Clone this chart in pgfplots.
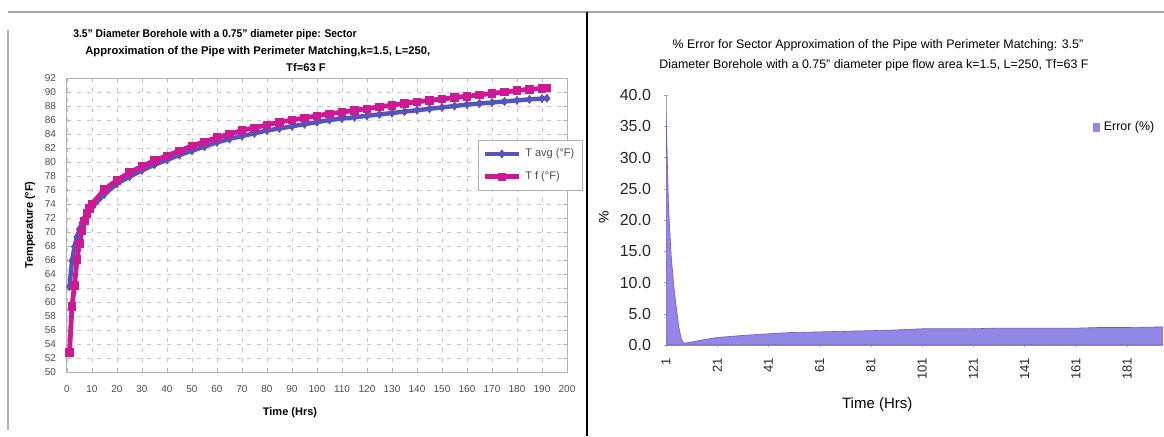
\documentclass[border=0pt]{standalone}
\usepackage{pgfplots}
\pgfplotsset{compat=1.18}
\usepackage{fontspec}
\setmainfont{Liberation Sans}
\definecolor{tblue}{RGB}{85,85,185}
\definecolor{tmag}{RGB}{205,25,150}
\definecolor{efill}{RGB}{145,135,228}
\definecolor{edraw}{RGB}{100,90,205}
\begin{document}
\begin{tikzpicture}
\path[use as bounding box] (0,0) rectangle (582pt,218pt);
% frame
\draw[gray!70, line width=1pt] (4pt,212pt) -- (582pt,212pt);
\draw[black, line width=0.8pt] (293.5pt,212pt) -- (293.5pt,0pt);
\draw[gray!60, line width=1.2pt] (4pt,203pt) -- (4pt,3pt);
% left titles
\node[anchor=west, font=\fontsize{5.6}{6}\selectfont\bfseries, inner sep=0pt] at (36.5pt,200.5pt) {\scalebox{0.92}[1]{3.5" Diameter Borehole with a 0.75" diameter pipe: Sector}};
\node[anchor=west, font=\fontsize{5.6}{6}\selectfont\bfseries, inner sep=0pt] at (42.5pt,192pt) {Approximation of the Pipe with Perimeter Matching,k=1.5, L=250,};
\node[anchor=center, font=\fontsize{5.6}{6}\selectfont\bfseries, inner sep=0pt] at (153pt,184pt) {Tf=63 F};
% right titles
\node[anchor=center, font=\fontsize{6.2}{7}\selectfont, inner sep=0pt] at (439pt,195.5pt) {\% Error for Sector Approximation of the Pipe with Perimeter Matching: 3.5"};
\node[anchor=center, font=\fontsize{6.2}{7}\selectfont, inner sep=0pt] at (437pt,185.5pt) {Diameter Borehole with a 0.75" diameter pipe flow area k=1.5, L=250, Tf=63 F};

\begin{axis}[
  at={(33.5pt,32pt)}, anchor=south west,
  scale only axis, width=250pt, height=147pt,
  xmin=0, xmax=200, ymin=50, ymax=92,
  xtick={0,10,...,200}, ytick={50,52,...,92},
  grid=major,
  major grid style={gray!45, dash pattern=on 2pt off 3pt, line width=0.4pt},
  axis line style={gray!60, line width=0.5pt},
  tick style={gray!60},
  major tick length=2pt,
  tick label style={font=\fontsize{5}{6}\selectfont, text=black!70},
  /pgf/number format/assume math mode=true,
  xticklabel style={yshift=-3pt},
  yticklabel style={xshift=-2pt},
  xlabel={Time (Hrs)},
  ylabel={Temperature (°F)},
  xlabel style={at={(axis description cs:0.446,-0.139)}, anchor=center, font=\fontsize{5.5}{6}\selectfont\bfseries},
  ylabel style={at={(axis description cs:-0.074,0.5)}, anchor=center, rotate=0, font=\fontsize{5.5}{6}\selectfont\bfseries},
  legend style={at={(axis description cs:0.822,0.789)}, anchor=north west, font=\fontsize{5.5}{6}\selectfont, draw=gray!60, line width=0.4pt, row sep=2pt, inner sep=2pt, text=black!70},
  legend cell align=left,
]
\addplot[color=tblue, line width=2.2pt, mark=diamond*, mark size=2pt, mark options={line width=0.4pt}] coordinates {
(1,62.2) (2,65.9) (3,67.9) (4,69.3) (5,70.4) (6,71.3) (7,72.0) (8,72.6) (9,73.1) (10,73.5)
(15,75.4) (20,76.9) (25,77.9) (30,78.8) (35,79.6) (40,80.3) (45,81.0) (50,81.6) (55,82.2)
(60,82.8) (65,83.3) (70,83.7) (75,84.1) (80,84.5) (85,84.8) (90,85.1) (95,85.4) (100,85.7)
(105,86.0) (110,86.2) (115,86.4) (120,86.6) (125,86.8) (130,87.0) (135,87.2) (140,87.4)
(145,87.6) (150,87.8) (155,88.0) (160,88.2) (165,88.35) (170,88.5) (175,88.65) (180,88.8)
(185,88.95) (190,89.05) (192,89.1)
};
\addlegendentry{T avg (°F)}
\addplot[color=tmag, line width=2.4pt, mark=square*, mark size=1.9pt, mark options={line width=0.4pt}] coordinates {
(1,52.8) (2,59.4) (3,62.4) (4,66.1) (5,68.4) (6,70.2) (7,71.6) (8,72.7) (9,73.4) (10,74.0)
(15,76.1) (20,77.4) (25,78.5) (30,79.4) (35,80.2) (40,80.9) (45,81.6) (50,82.3) (55,82.9)
(60,83.5) (65,84.0) (70,84.5) (75,84.9) (80,85.3) (85,85.7) (90,86.0) (95,86.3) (100,86.6)
(105,86.9) (110,87.1) (115,87.4) (120,87.6) (125,87.9) (130,88.1) (135,88.4) (140,88.6)
(145,88.8) (150,89.0) (155,89.2) (160,89.4) (165,89.6) (170,89.8) (175,90.0) (180,90.2)
(185,90.4) (190,90.5) (192,90.6)
};
\addlegendentry{T f (°F)}
\end{axis}

\begin{axis}[
  at={(333pt,45.5pt)}, anchor=south west,
  scale only axis, width=248.5pt, height=125pt,
  xmin=1, xmax=195, ymin=0, ymax=40,
  axis x line=bottom, axis y line=left,
  axis line style={-, gray!70, line width=0.5pt},
  xtick={1,21,41,61,81,101,121,141,161,181},
  ytick={0,5,...,40},
  major tick length=2pt,
  tick style={gray!70},
  /pgf/number format/assume math mode=true,
  yticklabel={\pgfmathprintnumber[fixed, fixed zerofill, precision=1]{\tick}},
  tick label style={text=black!85},
  yticklabel style={font=\fontsize{8}{9}\selectfont, xshift=-3pt},
  xticklabel style={font=\fontsize{6.5}{7}\selectfont, rotate=90, anchor=east, yshift=0pt, xshift=-2pt},
  xlabel={Time (Hrs)},
  ylabel={\%},
  xlabel style={at={(axis description cs:0.425,-0.24)}, anchor=center, font=\fontsize{7.5}{8}\selectfont},
  ylabel style={at={(axis description cs:-0.125,0.51)}, anchor=center, font=\fontsize{7}{8}\selectfont},
  legend style={at={(axis description cs:0.855,0.872)}, anchor=west, font=\fontsize{6.2}{7}\selectfont, draw=none, fill=none, inner sep=1pt},
  legend image code/.code={\fill[efill] (0pt,-2pt) rectangle (3pt,2pt);},
]
\addplot[fill=efill, draw=edraw, line width=0.3pt] coordinates {
(1,0) (1,37.3) (2,22.0) (3,14.4) (4,9.6) (5,6.1) (6,2.9) (7,0.9) (8,0.3) (10,0.4) (15,0.8)
(21,1.2) (30,1.5) (41,1.8) (50,2.0) (61,2.1) (70,2.2) (81,2.3) (90,2.4) (101,2.6) (110,2.6)
(121,2.6) (130,2.7) (141,2.7) (150,2.7) (161,2.7) (170,2.8) (181,2.8) (195,2.9) (195,0)
} \closedcycle;
\addlegendentry{Error (\%)}
\end{axis}
\end{tikzpicture}
\end{document}
